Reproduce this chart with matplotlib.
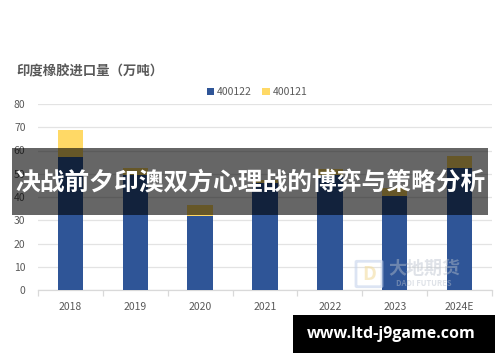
import matplotlib
matplotlib.use("Agg")
import matplotlib.pyplot as plt
from matplotlib.patches import Rectangle, FancyBboxPatch

plt.rcParams['font.family'] = ['Noto Sans CJK SC', 'DejaVu Sans']

categories = ['2018', '2019', '2020', '2021', '2022', '2023', '2024E']
s400122 = [57, 49.5, 32, 46, 49.5, 40.5, 52.5]
s400121 = [12, 3, 4.5, 1.5, 2.5, 3.5, 5]
yticks = [0, 10, 20, 30, 40, 50, 60, 70, 80]

W, H = 500, 362
fig = plt.figure(figsize=(W / 100, H / 100), dpi=100)
fig.patch.set_facecolor('white')

def fx(px):
    return px / W

def fy(py):
    return 1 - py / H

ax = fig.add_axes([fx(38), fy(290), fx(492) - fx(38), fy(104) - fy(290)])
x = list(range(len(categories)))
blue = '#2F5597'
yellow = '#FFD966'
ax.bar(x, s400122, width=0.39, color=blue, label='400122', zorder=3)
ax.bar(x, s400121, width=0.39, bottom=s400122, color=yellow, label='400121', zorder=3)

ax.set_xlim(-0.5, len(categories) - 0.5)
ax.set_ylim(0, 80)
ax.set_yticks(yticks)
ax.set_yticklabels([str(v) for v in yticks])
ax.set_xticks(x)
ax.set_xticklabels(categories)
ax.yaxis.grid(True, color='#e3e3e3', linewidth=0.9, zorder=0)
ax.set_axisbelow(True)
for s in ['top', 'right', 'left']:
    ax.spines[s].set_visible(False)
ax.spines['bottom'].set_color('#d9d9d9')
ax.spines['bottom'].set_linewidth(0.9)
ax.tick_params(axis='y', length=0, pad=9, labelsize=7.5, labelcolor='#595959')
ax.tick_params(axis='x', length=0, pad=9, labelsize=7.5, labelcolor='#595959')
ax.set_xticks([i + 0.5 for i in range(-1, len(categories))], minor=True)
ax.tick_params(axis='x', which='minor', length=4, color='#d9d9d9', width=0.9)

# title
fig.text(fx(16), fy(71), '印度橡胶进口量（万吨）', fontsize=9.6, fontweight='bold',
         color='#595959', ha='left', va='center')

# legend
handles, labels = ax.get_legend_handles_labels()
fig.legend(handles, labels, loc='center', bbox_to_anchor=(fx(257), fy(92)), ncol=2,
           frameon=False, fontsize=7.5, handlelength=0.7, handleheight=0.7,
           handletextpad=0.3, columnspacing=1.0, labelcolor='#595959')

# watermark
fig.text(fx(424), fy(268.5), '大地期货', fontsize=13, fontweight='bold', color='#b8c0cc',
         alpha=0.45, ha='center', va='center', zorder=4)
fig.text(fx(424), fy(283.5), 'DADI FUTURES', fontsize=5.5, fontweight='bold', color='#b8c0cc',
         alpha=0.45, ha='center', va='center', zorder=4)
fig.add_artist(FancyBboxPatch((fx(357), fy(286)), fx(381) - fx(357), fy(262) - fy(286),
                              boxstyle='round,pad=0.002', transform=fig.transFigure,
                              facecolor='none', edgecolor='#c5d3ec', linewidth=2,
                              alpha=0.6, zorder=4))
fig.text(fx(369), fy(275), 'D', fontsize=14, fontweight='bold', color='#f2dca0',
         alpha=0.6, ha='center', va='center', zorder=4)

# banner
fig.add_artist(Rectangle((fx(12), fy(215)), fx(488) - fx(12), fy(148) - fy(215),
                         transform=fig.transFigure, facecolor='black', alpha=0.6,
                         edgecolor='none', zorder=10))
fig.text(fx(250), fy(183), '决战前夕印澳双方心理战的博弈与策略分析', fontsize=17.8,
         fontweight='bold', color='white', ha='center', va='center', zorder=11)

# bottom box
fig.add_artist(Rectangle((fx(293), fy(353)), fx(495) - fx(293), fy(315) - fy(353),
                         transform=fig.transFigure, facecolor='black',
                         edgecolor='none', zorder=10))
fig.text(fx(391), fy(334), 'www.ltd-j9game.com', fontsize=11.5, fontweight='bold',
         color='white', ha='center', va='center', zorder=11, family=['Open Sans', 'DejaVu Sans'])

fig.savefig('out.png', dpi=100)
